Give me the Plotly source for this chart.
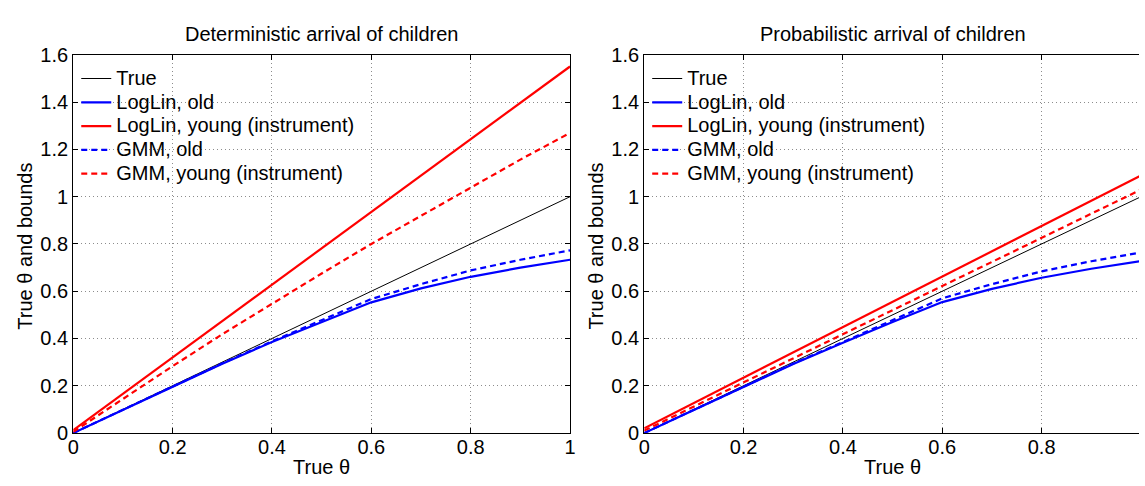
import plotly.graph_objects as go

W, H = 1145, 486

# ---- data ----
theta = [0.0, 0.1, 0.2, 0.3, 0.4, 0.5, 0.6, 0.7, 0.8, 0.9, 1.0]
true_vals = [0.0, 0.1, 0.2, 0.3, 0.4, 0.5, 0.6, 0.7, 0.8, 0.9, 1.0]

# Deterministic arrival of children
det_loglin_old = [0.0, 0.098, 0.197, 0.293, 0.385, 0.470, 0.553, 0.612, 0.661, 0.700, 0.733]
det_loglin_young = [0.012, 0.166, 0.320, 0.474, 0.628, 0.782, 0.935, 1.089, 1.243, 1.397, 1.551]
det_gmm_old = [0.0, 0.099, 0.198, 0.295, 0.388, 0.478, 0.567, 0.630, 0.688, 0.733, 0.773]
det_gmm_young = [0.005, 0.145, 0.283, 0.418, 0.548, 0.675, 0.800, 0.920, 1.040, 1.157, 1.270]

# Probabilistic arrival of children
prob_loglin_old = [0.0, 0.098, 0.196, 0.292, 0.382, 0.470, 0.554, 0.610, 0.657, 0.695, 0.728]
prob_loglin_young = [0.020, 0.127, 0.234, 0.341, 0.448, 0.555, 0.662, 0.769, 0.876, 0.983, 1.090]
prob_gmm_old = [0.0, 0.099, 0.197, 0.294, 0.385, 0.478, 0.570, 0.630, 0.684, 0.727, 0.764]
prob_gmm_young = [0.010, 0.112, 0.214, 0.316, 0.418, 0.520, 0.622, 0.724, 0.826, 0.928, 1.030]

names = ["True", "LogLin, old", "LogLin, young (instrument)", "GMM, old", "GMM, young (instrument)"]
titles = ["Deterministic arrival of children", "Probabilistic arrival of children"]
xticks = [0, 0.2, 0.4, 0.6, 0.8, 1]
xticklabels = ["0", "0.2", "0.4", "0.6", "0.8", "1"]
yticks = [0, 0.2, 0.4, 0.6, 0.8, 1, 1.2, 1.4, 1.6]
yticklabels = ["0", "0.2", "0.4", "0.6", "0.8", "1", "1.2", "1.4", "1.6"]

FONT = "Liberation Sans, Arial, Helvetica, sans-serif"
styles = [
    dict(color="black", width=1, dash="solid"),
    dict(color="#0000FF", width=2.2, dash="solid"),
    dict(color="#FF0000", width=2.2, dash="solid"),
    dict(color="#0000FF", width=2.2, dash="6px,4px"),
    dict(color="#FF0000", width=2.2, dash="6px,4px"),
]

fig = go.Figure()

panels = [
    dict(series=[true_vals, det_loglin_old, det_loglin_young, det_gmm_old, det_gmm_young],
         xa="x", ya="y", legend="legend"),
    dict(series=[true_vals, prob_loglin_old, prob_loglin_young, prob_gmm_old, prob_gmm_young],
         xa="x2", ya="y2", legend="legend2"),
]

for p in panels:
    for nm, ys, st in zip(names, p["series"], styles):
        fig.add_trace(go.Scatter(
            x=theta, y=ys, mode="lines",
            name='<span style="font-size:20px">' + nm + '</span>',
            line=dict(color=st["color"], width=st["width"], dash=st["dash"]),
            xaxis=p["xa"], yaxis=p["ya"], legend=p["legend"],
        ))

# pixel geometry
L1, R1 = 68, 570
L2 = 645
plot_w = R1 - L1
TOP, BOT = 46, 442
ydom = [(H - BOT) / H, (H - TOP) / H]
right_max = (W - L2) / plot_w  # visible range of right panel

axis_common = dict(
    showline=True, linecolor="black", linewidth=1.3,
    ticks="inside", ticklen=5, tickcolor="black", tickwidth=1,
    showgrid=True, gridcolor="#8c8c8c", griddash="1px,3px", gridwidth=1,
    zeroline=False,
    tickfont=dict(family=FONT, size=20, color="black"),
)

legend_common = dict(
    xanchor="left", yanchor="top",
    bgcolor="rgba(0,0,0,0)", borderwidth=0,
    font=dict(family=FONT, size=16, color="black"),
    tracegroupgap=0, itemwidth=30,
)

fig.update_layout(
    width=W, height=H,
    margin=dict(l=0, r=0, t=0, b=0),
    paper_bgcolor="white", plot_bgcolor="white",
    font=dict(family=FONT, color="black"),
    xaxis=dict(domain=[L1 / W, R1 / W], range=[0, 1], tickvals=xticks,
               ticktext=xticklabels, mirror="ticks", anchor="y",
               ticklabelstandoff=-4, **axis_common),
    yaxis=dict(domain=ydom, range=[0, 1.6], tickvals=yticks,
               ticktext=yticklabels, mirror="ticks", anchor="x", **axis_common),
    xaxis2=dict(domain=[L2 / W, 1.0], range=[0, right_max], tickvals=xticks[:-1],
                ticktext=xticklabels[:-1], mirror="ticks", anchor="y2",
                ticklabelstandoff=-4, **axis_common),
    yaxis2=dict(domain=ydom, range=[0, 1.6], tickvals=yticks,
                ticktext=yticklabels, mirror=False, anchor="x2", **axis_common),
    legend=dict(x=(L1 + 3) / W, y=(H - TOP - 7) / H, **legend_common),
    legend2=dict(x=(L2 + 3) / W, y=(H - TOP - 7) / H, **legend_common),
    showlegend=True,
)

# titles and axis labels as annotations in paper space
ann_font = dict(family=FONT, size=20, color="black")
centers = [(L1 + R1) / 2, (L2 + L2 + plot_w) / 2]
for cx, t in zip(centers, titles):
    fig.add_annotation(text=t, x=cx / W, y=(H - 24) / H, xref="paper", yref="paper",
                       showarrow=False, font=ann_font, xanchor="center", yanchor="middle")
    fig.add_annotation(text="True θ", x=cx / W, y=(H - 478) / H, xref="paper", yref="paper",
                       showarrow=False, font=ann_font, xanchor="center", yanchor="middle")
for lx in [L1, L2]:
    fig.add_annotation(text="True θ and bounds", x=(lx - 49) / W, y=(H - 246) / H,
                       xref="paper", yref="paper", showarrow=False, font=ann_font,
                       textangle=-90, xanchor="center", yanchor="middle")

fig.write_html("out.html")
